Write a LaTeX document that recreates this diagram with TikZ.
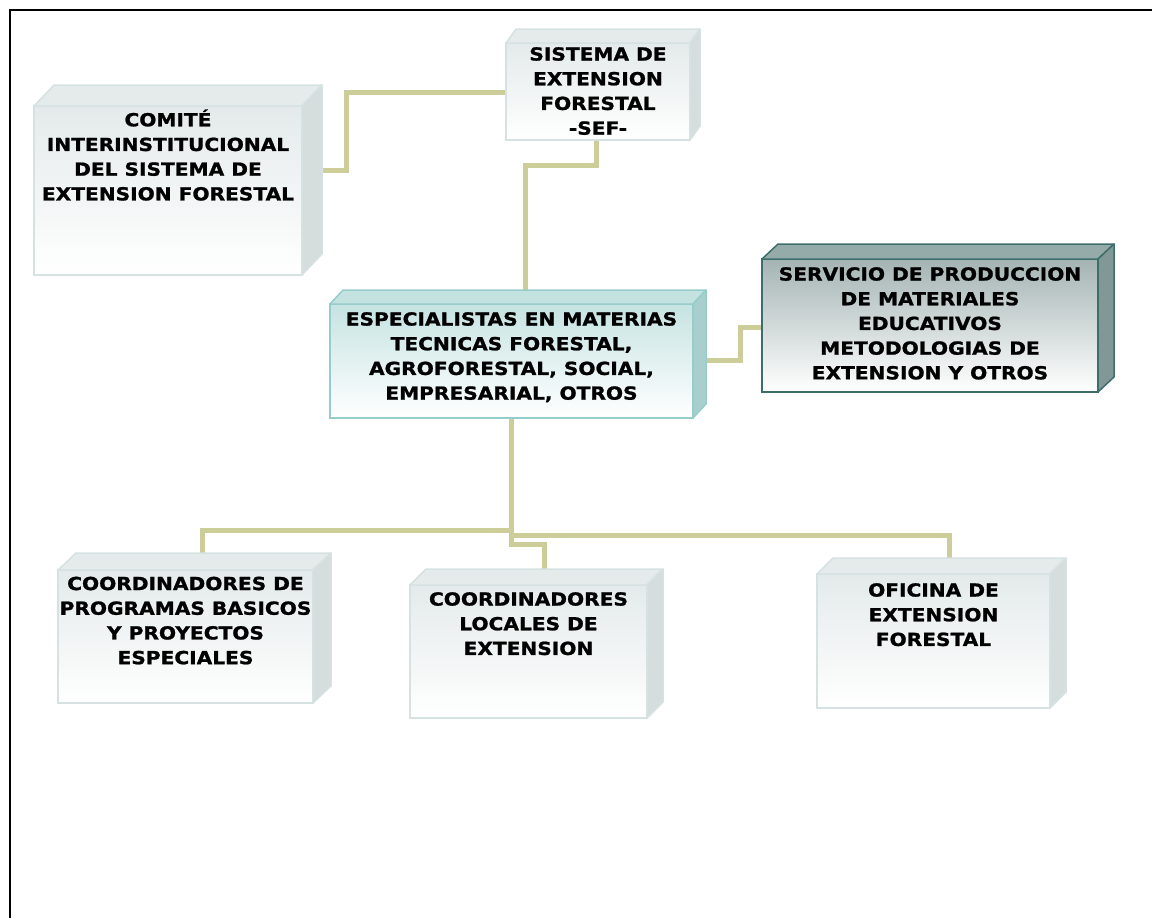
\documentclass[tikz,border=0pt]{standalone}
\usepackage{fontspec}
\newfontfamily\boxfont[FakeStretch=1.12, FakeBold=1.2]{DejaVu Sans Bold}
\usetikzlibrary{backgrounds}
\definecolor{connc}{RGB}{205,205,153}
\definecolor{lgtline}{RGB}{214,225,225}
\definecolor{lgttop}{RGB}{229,234,234}
\definecolor{lgtside}{RGB}{214,221,221}
\definecolor{lgtfront}{RGB}{228,234,234}
\definecolor{tealline}{RGB}{150,204,202}
\definecolor{tealtop}{RGB}{196,226,224}
\definecolor{tealside}{RGB}{168,207,205}
\definecolor{tealfront}{RGB}{198,227,226}
\definecolor{darkline}{RGB}{62,110,108}
\definecolor{darktop}{RGB}{149,171,170}
\definecolor{darkside}{RGB}{129,152,151}
\definecolor{darkfront}{RGB}{164,180,179}
\newcommand\mkbox[8]{%
  \node[draw=#8line, line width=1.5pt, top color=#8front, bottom color=white,
        minimum width=#4pt, minimum height=#5pt, inner sep=0pt, outer sep=0pt,
        anchor=north west] (#1) at (#2,#3) {};
  \filldraw[draw=#8line, fill=#8top, line width=1.5pt, line join=round]
    (#1.north west) -- ++(#6pt,#7pt) -- ++(#4pt,0pt) -- (#1.north east) -- cycle;
  \filldraw[draw=#8line, fill=#8side, line width=1.5pt, line join=round]
    (#1.north east) -- ++(#6pt,#7pt) -- ++(0pt,-#5pt) -- (#1.south east) -- cycle;
}
\tikzset{
  lbl/.style={font=\boxfont\fontsize{18}{24.7}\selectfont, align=center,
              inner sep=0pt, anchor=north, text=black},
  conn/.style={draw=connc, line width=5pt},
  frameline/.style={draw=black, line width=1.2pt}
}
\begin{document}
\begin{tikzpicture}[x=1pt,y=-1pt]
\useasboundingbox (0,0) rectangle (1152,918);
\draw[frameline] (10,918) -- (10,10) -- (1152,10);

\mkbox{cmt}{34}{106}{268}{169}{20}{21}{lgt}
\mkbox{sef}{506}{43}{184}{97}{10}{14}{lgt}
\mkbox{esp}{330}{304}{363}{114}{13}{14}{teal}
\mkbox{serv}{762}{259}{336}{133}{16}{15}{dark}
\mkbox{pa}{58}{570}{255}{133}{18}{17}{lgt}
\mkbox{pb}{410}{585}{237}{133}{16}{16}{lgt}
\mkbox{pc}{817}{574}{233}{134}{16}{16}{lgt}

\node[lbl] (cmt-l) at ([yshift=-3.4pt]cmt.north) {COMITÉ\\INTERINSTITUCIONAL\\DEL SISTEMA DE\\EXTENSION FORESTAL};
\node[lbl] (sef-l) at ([yshift=-4pt]sef.north) {SISTEMA DE\\EXTENSION\\FORESTAL\\-SEF-};
\node[lbl] (esp-l) at ([yshift=-8pt]esp.north) {ESPECIALISTAS EN MATERIAS\\TECNICAS FORESTAL,\\AGROFORESTAL, SOCIAL,\\EMPRESARIAL, OTROS};
\node[lbl] (serv-l) at ([yshift=-8pt]serv.north) {SERVICIO DE PRODUCCION\\DE MATERIALES\\EDUCATIVOS\\METODOLOGIAS DE\\EXTENSION Y OTROS};
\node[lbl] (pa-l) at ([yshift=-6.5pt]pa.north) {COORDINADORES DE\\PROGRAMAS BASICOS\\Y PROYECTOS\\ESPECIALES};
\node[lbl] (pb-l) at ([yshift=-7pt]pb.north) {COORDINADORES\\LOCALES DE\\EXTENSION};
\node[lbl] (pc-l) at ([yshift=-9pt]pc.north) {OFICINA DE\\EXTENSION\\FORESTAL};

\begin{scope}[on background layer]
\draw[conn] ([yshift=-49pt]sef.north west) -| ([xshift=44pt,yshift=20.5pt]cmt.east) -- ([xshift=20pt,yshift=20.5pt]cmt.east);
\draw[conn] ([xshift=-2pt]sef.south) -- ++(0,25) -| ([xshift=13.5pt,yshift=14pt]esp.north);
\draw[conn] ([yshift=1pt]esp.east) -- ++(47,0) |- ([yshift=-1.5pt]serv.west);
\draw[conn] (esp.south) -- ++(0,112) -| ([xshift=16.5pt,yshift=17pt]pa.north);
\draw[conn] (esp.south) -- ++(0,126) -| ([xshift=15.5pt,yshift=16pt]pb.north);
\draw[conn] (esp.south) -- ++(0,117) -| ([xshift=15.5pt,yshift=16pt]pc.north);
\end{scope}
\end{tikzpicture}
\end{document}
